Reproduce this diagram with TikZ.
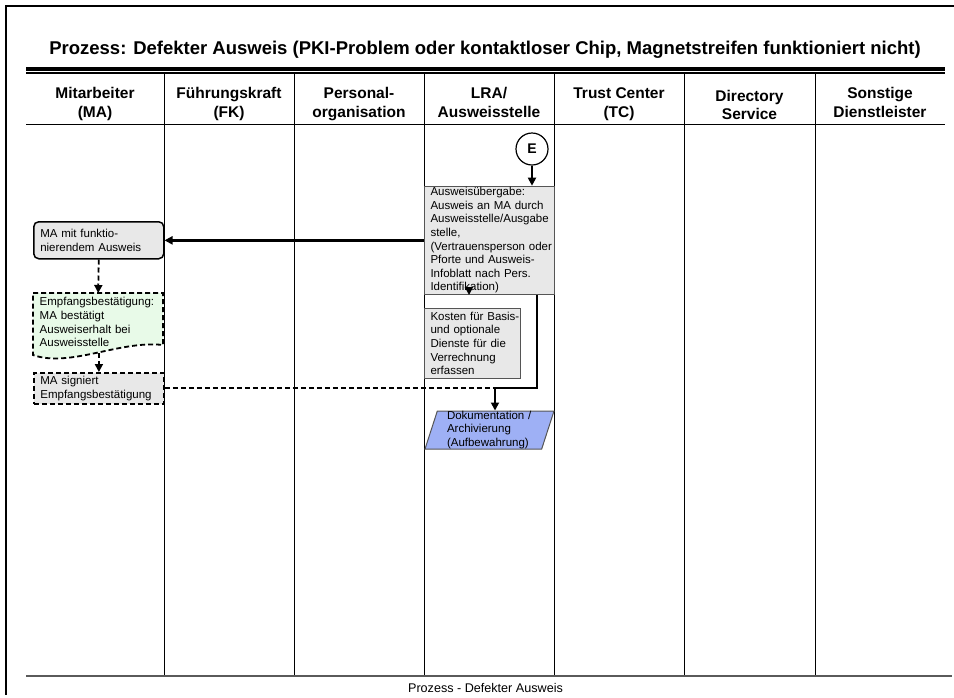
\documentclass[tikz,border=0pt]{standalone}
\usepackage{fontspec}
\setmainfont{Liberation Sans}
\usetikzlibrary{arrows.meta,shapes.geometric,calc}
\definecolor{boxgray}{RGB}{232,232,232}
\definecolor{edgegray}{RGB}{85,85,85}
\definecolor{mint}{RGB}{232,250,232}
\definecolor{docblue}{RGB}{158,176,245}
\definecolor{rulegray}{RGB}{90,90,90}
\newcommand{\boxfont}{\fontsize{11.5}{13.6}\selectfont}
\newcommand{\headfont}{\bfseries\fontsize{15.5}{18.5}\selectfont}

\begin{document}
\begin{tikzpicture}[x=1pt,y=-1pt,
  lanesep/.style={line width=1pt, dash pattern=on 1.5pt off 0.5pt},
  headtxt/.style={font=\headfont, align=center, anchor=base, inner sep=0pt},
  stepbox/.style={anchor=north west, font=\boxfont, align=left,
                  inner xsep=6pt, inner ysep=0.5pt, fill=boxgray},
  arr/.style={-{Triangle[length=8pt,width=8pt]}, line width=1.8pt},
  darr/.style={arr, dash pattern=on 5pt off 3pt},
  dline/.style={line width=1.8pt, dash pattern=on 5pt off 3pt},
  solidline/.style={line width=2pt},
]
\useasboundingbox (0,0) rectangle (954,697);

% page frame
\draw[line width=1.5pt] (5.5,6) -- (954,6);
\draw[line width=2pt] (5.5,5.3) -- (5.5,695);

% title
\node[font=\bfseries\fontsize{18.5}{22}\selectfont, anchor=base, inner sep=0pt] (title)
  at (485,54) {Prozess: Defekter Ausweis (PKI-Problem oder kontaktloser Chip, Magnetstreifen funktioniert nicht)};

% double rule above the lane headers
\fill (26,66.6) rectangle (945,70.7);
\fill (26,71.7) rectangle (945,74);

% lane separators, header rule and bottom rule
\foreach \x in {164,294,424,554,684,815}
  \draw[lanesep] (\x,74) -- (\x,676);
\draw[line width=1.3pt] (26,124.5) -- (945,124.5);
\draw[line width=1.8pt, rulegray] (26,676) -- (952,676);

% lane headers (anchored on the baseline of the second line)
\node[headtxt] (hMA) at (95,117)    {Mitarbeiter\\(MA)};
\node[headtxt] (hFK) at (229,117)   {Führungskraft\\(FK)};
\node[headtxt] (hPO) at (359,117)   {Personal-\\organisation};
\node[headtxt] (hLRA) at (489,117)  {LRA/\\Ausweisstelle};
\node[headtxt] (hTC) at (619,117)   {Trust Center\\(TC)};
\node[headtxt] (hDS) at (749.5,119.5) {Directory\\Service};
\node[headtxt] (hSD) at (880,117)   {Sonstige\\Dienstleister};

% footer
\node[font=\fontsize{12.6}{14}\selectfont, anchor=base, inner sep=0pt] (footer)
  at (485.5,692) {Prozess - Defekter Ausweis};

% entry connector
\node[circle, draw, line width=1.2pt, fill=white, minimum size=32pt, inner sep=0pt,
      font=\bfseries\fontsize{14}{14}\selectfont] (E) at (532,149) {E};

% LRA steps (long lines kept in one piece with \mbox)
\node[stepbox, draw=edgegray, line width=1pt, text width=118pt, minimum height=108.3pt]
  (uebergabe) at (424,185.7)
  {Ausweisübergabe:\\Ausweis an MA durch\\\mbox{Ausweisstelle/Ausgabe}\\stelle,\\\mbox{(Vertrauensperson oder}\\Pforte und Ausweis-\\Infoblatt nach Pers.\\Identifikation)};

\node[stepbox, draw=edgegray, line width=1pt, text width=84pt, minimum height=70.3pt]
  (kosten) at (424,307.7)
  {\mbox{Kosten für Basis-}\\und optionale\\Dienste für die\\Verrechnung\\erfassen};

\node[trapezium, trapezium left angle=72, trapezium right angle=108,
      trapezium stretches body, draw=edgegray, line width=1pt, fill=docblue,
      minimum width=129pt, minimum height=38pt, inner xsep=0pt, inner ysep=0pt,
      text width=85pt, align=left, font=\boxfont]
  (doku) at (489.5,430) {Dokumentation /\\Archivierung\\(Aufbewahrung)};

% employee steps
\node[stepbox, draw=black, line width=1.5pt, rounded corners=5pt, inner xsep=6.5pt,
      text width=117pt, minimum height=37pt]
  (ma) at (33,221) {MA mit funktio-\\nierendem Ausweis};

\filldraw[fill=mint, draw=black, dline]
  (33,293) -- (163,293) -- (163,345)
  .. controls (120,340) and (70,368) .. (33,355) coordinate[pos=0.5] (wave) -- cycle;
\node[stepbox, fill=none, inner xsep=6.5pt, text width=117pt, minimum height=58pt]
  (empf) at (33,293) {Empfangsbestätigung:\\MA bestätigt\\Ausweiserhalt bei\\Ausweisstelle};

\node[stepbox, draw=black, dline, inner xsep=6.5pt, text width=117pt, minimum height=31pt]
  (sign) at (33,372) {MA signiert\\Empfangsbestätigung};

% flow
\coordinate (join) at (495,388);
\draw[arr] (E) -- (E |- uebergabe.north);
\draw[arr, line width=2.4pt] (uebergabe.west) -- (uebergabe.west -| ma.east);
\draw[darr] (ma.south) -- (empf.north);
\draw[darr] (sign.north |- wave) -- (sign.north);
\draw[arr] ($(uebergabe.south west)+(45,-3)$) -- ($(uebergabe.south west)+(45,0)$ |- kosten.north);
\draw[solidline] ($(uebergabe.south east)+(-18,0)$) |- (join);
\draw[dline, line width=2pt] (sign.east) -- (sign.east -| join);
\draw[arr] (join) -- (join |- doku.north);
\end{tikzpicture}
\end{document}
